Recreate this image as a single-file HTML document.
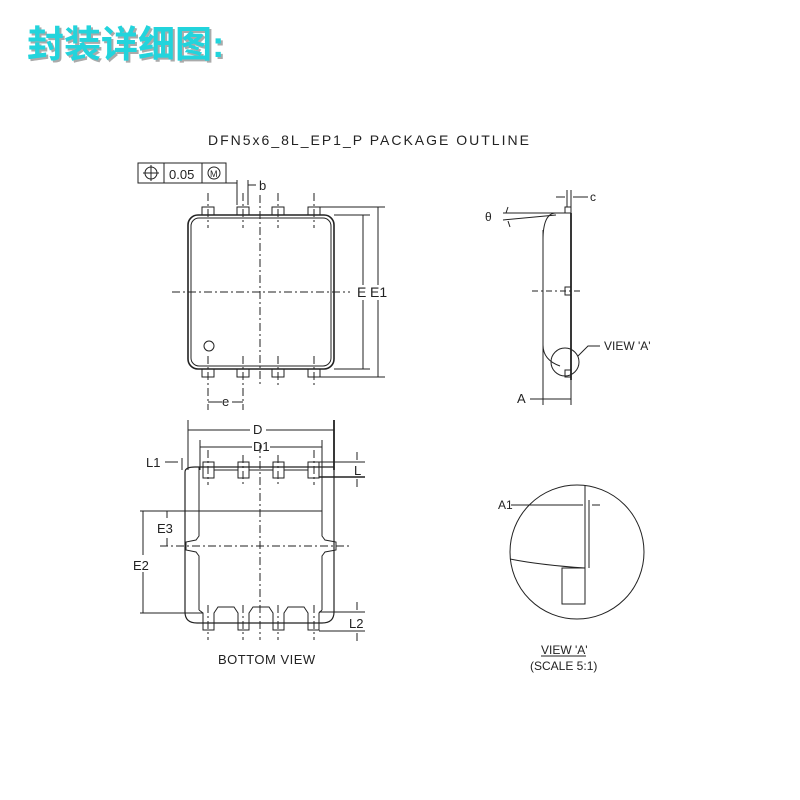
<!DOCTYPE html>
<html><head><meta charset="utf-8"><style>
body{margin:0;background:#fff}
svg{display:block}
.t{font-family:"Liberation Sans",sans-serif;fill:#222}
</style></head><body>
<svg width="800" height="800" viewBox="0 0 800 800" xmlns="http://www.w3.org/2000/svg">
<rect width="800" height="800" fill="#fff"/>
<text x="29" y="59" font-family="'Liberation Sans','Noto Sans CJK SC',sans-serif" font-size="37" font-weight="bold" fill="#aaa">封装详细图:</text>
<text x="27" y="57" font-family="'Liberation Sans','Noto Sans CJK SC',sans-serif" font-size="37" font-weight="bold" fill="#22d4dc">封装详细图:</text>

<text class="t" x="208" y="145" font-size="14" letter-spacing="2">DFN5x6_8L_EP1_P PACKAGE OUTLINE</text>

<g stroke="#222" fill="none" stroke-width="1">
<!-- top view -->
<rect x="138" y="163" width="88" height="20"/>
<line x1="164" y1="163" x2="164" y2="183"/><line x1="202" y1="163" x2="202" y2="183"/>
<circle cx="151" cy="173" r="6"/><line x1="143" y1="173" x2="159" y2="173"/><line x1="151" y1="165" x2="151" y2="181"/>
<circle cx="214" cy="173" r="6"/>
<rect x="188" y="215" width="146" height="154" rx="10" stroke-width="1.6"/>
<rect x="191" y="218" width="140" height="148" rx="8"/>
<g>
<rect x="202" y="207" width="12" height="8"/><rect x="237" y="207" width="12" height="8"/><rect x="272" y="207" width="12" height="8"/><rect x="308" y="207" width="12" height="8"/>
<rect x="202" y="369" width="12" height="8"/><rect x="237" y="369" width="12" height="8"/><rect x="272" y="369" width="12" height="8"/><rect x="308" y="369" width="12" height="8"/>
</g>
<g stroke-dasharray="8,3,2,3">
<line x1="260" y1="195" x2="260" y2="385"/><line x1="172" y1="292" x2="350" y2="292"/>
<line x1="208" y1="193" x2="208" y2="228"/><line x1="243" y1="193" x2="243" y2="228"/><line x1="278" y1="193" x2="278" y2="228"/><line x1="314" y1="193" x2="314" y2="228"/>
<line x1="208" y1="356" x2="208" y2="410"/><line x1="243" y1="356" x2="243" y2="410"/><line x1="278" y1="356" x2="278" y2="385"/><line x1="314" y1="356" x2="314" y2="385"/>
</g>
<circle cx="209" cy="346" r="5"/>
<line x1="237" y1="180" x2="237" y2="205"/><line x1="248" y1="180" x2="248" y2="205"/>
<line x1="226" y1="183" x2="237" y2="183"/><line x1="248" y1="185" x2="256" y2="185"/>
<line x1="208" y1="402" x2="222" y2="402"/><line x1="232" y1="402" x2="243" y2="402"/>
<line x1="334" y1="215" x2="370" y2="215"/><line x1="320" y1="207" x2="385" y2="207"/>
<line x1="334" y1="369" x2="370" y2="369"/><line x1="320" y1="377" x2="385" y2="377"/>
<line x1="363" y1="215" x2="363" y2="285"/><line x1="363" y1="300" x2="363" y2="369"/>
<line x1="378" y1="207" x2="378" y2="285"/><line x1="378" y1="300" x2="378" y2="377"/>

<!-- bottom view -->
<path d="M185 472 Q185 467 195 467 L334 467 M185 472 L185 612 Q185 623 197 623 L322 623 Q334 623 334 612 L334 467" stroke-width="1.2"/>
<line x1="188" y1="420" x2="188" y2="470"/><line x1="334" y1="420" x2="334" y2="470" stroke-width="1.8"/>
<line x1="188" y1="430" x2="250" y2="430"/><line x1="266" y1="430" x2="334" y2="430"/>
<line x1="200" y1="440" x2="200" y2="470"/><line x1="322" y1="440" x2="322" y2="470"/>
<line x1="200" y1="447" x2="252" y2="447"/><line x1="270" y1="447" x2="322" y2="447"/>
<rect x="203" y="462" width="11" height="16"/><rect x="238" y="462" width="11" height="16"/><rect x="273" y="462" width="11" height="16"/><rect x="308" y="462" width="11" height="16"/>
<line x1="214" y1="470" x2="238" y2="470"/><line x1="249" y1="470" x2="273" y2="470"/><line x1="284" y1="470" x2="308" y2="470"/>
<line x1="319" y1="477" x2="365" y2="477" stroke-width="1.6"/>
<line x1="319" y1="462" x2="365" y2="462"/>
<line x1="357" y1="452" x2="357" y2="460"/><line x1="357" y1="479" x2="357" y2="487"/>
<line x1="165" y1="462" x2="178" y2="462"/><line x1="182" y1="458" x2="182" y2="470"/>
<path d="M199 467 L199 536 L196 540 L186 542 L186 550 L196 552 L199 556 L199 610 M322 467 L322 536 L325 540 L336 542 L336 550 L325 552 L322 556 L322 610"/>
<line x1="140" y1="511" x2="322" y2="511"/>
<line x1="140" y1="613" x2="203" y2="613"/>
<path d="M199 610 L203 613 L203 630 L214 630 L214 613 L218 607 L234 607 L238 613 L238 630 L249 630 L249 613 L253 607 L269 607 L273 613 L273 630 L284 630 L284 613 L288 607 L304 607 L308 613 L308 630 L319 630 L319 613 L322 610"/>
<line x1="319" y1="612" x2="365" y2="612"/><line x1="319" y1="631" x2="365" y2="631"/>
<line x1="357" y1="602" x2="357" y2="610"/><line x1="357" y1="633" x2="357" y2="641"/>
<line x1="143" y1="511" x2="143" y2="555"/><line x1="143" y1="572" x2="143" y2="613"/>
<line x1="167" y1="511" x2="167" y2="518"/><line x1="167" y1="538" x2="167" y2="546"/>
<g stroke-dasharray="8,3,2,3">
<line x1="160" y1="546" x2="350" y2="546"/><line x1="260" y1="445" x2="260" y2="640"/>
<line x1="208" y1="450" x2="208" y2="485"/><line x1="243" y1="455" x2="243" y2="485"/><line x1="278" y1="455" x2="278" y2="485"/><line x1="314" y1="450" x2="314" y2="485"/>
<line x1="208" y1="605" x2="208" y2="640"/><line x1="243" y1="605" x2="243" y2="640"/><line x1="278" y1="605" x2="278" y2="640"/><line x1="314" y1="605" x2="314" y2="640"/>
</g>

<!-- side view -->
<path d="M571 213 L571 380" stroke-width="1.8"/>
<path d="M543 240 Q543 213 556 213 L571 213"/>
<path d="M543 230 L543 405"/><path d="M543 345 Q543 360 560 366"/>
<line x1="571" y1="213" x2="571" y2="405"/>
<rect x="565" y="207" width="6" height="6"/><rect x="565" y="287" width="6" height="8"/><rect x="565" y="370" width="6" height="7"/>
<line x1="567" y1="190" x2="567" y2="207"/><line x1="571" y1="190" x2="571" y2="207"/>
<line x1="556" y1="197" x2="565" y2="197"/><line x1="573" y1="197" x2="588" y2="197"/>
<line x1="503" y1="213" x2="566" y2="213"/><line x1="503" y1="220" x2="556" y2="215"/>
<line x1="508" y1="207" x2="506" y2="213"/><line x1="508" y1="221" x2="510" y2="227"/>
<line x1="532" y1="291" x2="580" y2="291" stroke-dasharray="6,3,2,3"/>
<circle cx="565" cy="362" r="14"/>
<path d="M578 356 L588 346 L600 346"/>
<line x1="530" y1="399" x2="543" y2="399"/><line x1="543" y1="399" x2="571" y2="399"/>

<!-- view A -->
<circle cx="577" cy="552" r="67"/>
<line x1="585" y1="485" x2="585" y2="568"/>
<line x1="585" y1="568" x2="562" y2="568"/>
<path d="M510 559 Q540 565 585 568"/>
<rect x="562" y="568" width="23" height="36"/>
<line x1="589" y1="500" x2="589" y2="527"/><line x1="589" y1="527" x2="589" y2="568"/>
<line x1="511" y1="505" x2="583" y2="505"/><line x1="592" y1="505" x2="600" y2="505"/>
<line x1="541" y1="656" x2="586" y2="656"/>
</g>
<g class="t" font-size="12">
<text x="169" y="179" font-size="13">0.05</text>
<text x="210" y="177" font-size="9" fill="#222">M</text>
<text x="259" y="190" font-size="13">b</text>
<text x="222" y="406" font-size="13">e</text>
<text x="357" y="297" font-size="14">E</text><text x="370" y="297" font-size="14">E1</text>
<text x="253" y="434" font-size="13">D</text>
<text x="253" y="451" font-size="13">D1</text>
<text x="146" y="467" font-size="13">L1</text>
<text x="354" y="475" font-size="13">L</text>
<text x="157" y="533" font-size="13">E3</text>
<text x="133" y="570" font-size="13">E2</text>
<text x="349" y="628" font-size="13">L2</text>
<text x="218" y="664" font-size="13" letter-spacing="0.5">BOTTOM  VIEW</text>
<text x="485" y="221" font-size="12">θ</text>
<text x="590" y="201" font-size="12">c</text>
<text x="604" y="350" font-size="12">VIEW 'A'</text>
<text x="517" y="403" font-size="13">A</text>
<text x="498" y="509" font-size="12">A1</text>
<text x="541" y="654" font-size="12">VIEW 'A'</text>
<text x="530" y="670" font-size="12">(SCALE 5:1)</text>
</g>
</svg>
</body></html>
